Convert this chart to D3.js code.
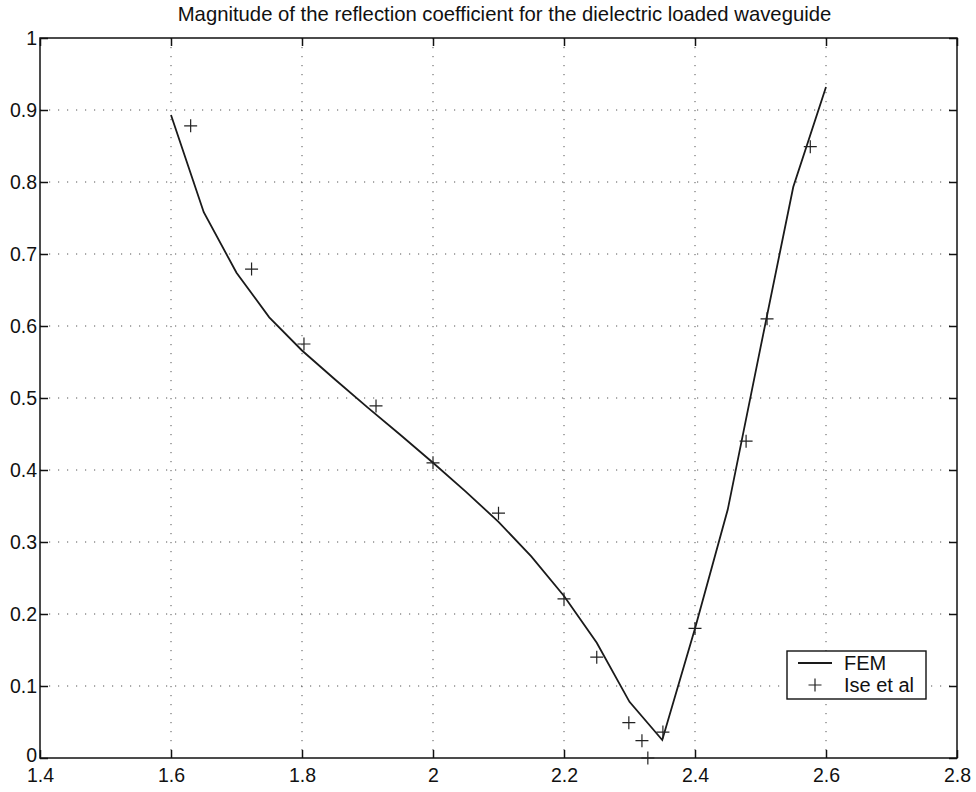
<!DOCTYPE html>
<html>
<head>
<meta charset="utf-8">
<script src="https://cdn.jsdelivr.net/npm/d3@7"></script>
<style>
  body { margin: 0; background: #fff; }
  text { font-family: "Liberation Sans", Arial, sans-serif; fill: #111; }
  .grid line { stroke: #555; stroke-width: 1; stroke-dasharray: 1.2,7.8; }
  .axis path { display: none; }
  .axis line { stroke: #111; stroke-width: 1.5; }
  .axis text { font-size: 19.5px; }
</style>
</head>
<body>
<div id="chart"></div>
<script>
var title = "Magnitude of the reflection coefficient for the dielectric loaded waveguide";

// FEM curve
var femFreq = [1.6, 1.65, 1.7, 1.75, 1.8, 1.85, 1.9, 1.95, 2.0, 2.05, 2.1,
               2.15, 2.2, 2.25, 2.3, 2.35, 2.4, 2.45, 2.5, 2.55, 2.6];
var femMag  = [0.893, 0.758, 0.674, 0.612, 0.566, 0.526, 0.487, 0.449, 0.41, 0.37, 0.328,
               0.28, 0.225, 0.16, 0.078, 0.025, 0.18, 0.345, 0.57, 0.793, 0.932];

// Ise et al measured points
var iseFreq = [1.63, 1.723, 1.803, 1.913, 2.0, 2.1, 2.2, 2.25, 2.299, 2.319, 2.328,
               2.351, 2.4, 2.478, 2.51, 2.576];
var iseMag  = [0.878, 0.679, 0.575, 0.489, 0.41, 0.34, 0.221, 0.14, 0.049, 0.024, 0.0,
               0.036, 0.18, 0.44, 0.61, 0.849];

var xTicks = [1.4, 1.6, 1.8, 2.0, 2.2, 2.4, 2.6, 2.8];
var yTicks = [0, 0.1, 0.2, 0.3, 0.4, 0.5, 0.6, 0.7, 0.8, 0.9, 1];
var legendLabels = ["FEM", "Ise et al"];

var margin = {top: 38, right: 19, bottom: 34, left: 40},
    width = 976 - margin.left - margin.right,
    height = 792 - margin.top - margin.bottom;

var x = d3.scaleLinear().domain([1.4, 2.8]).range([0, width]);
var y = d3.scaleLinear().domain([0, 1]).range([height, 0]);

var fmt = function(d) { return d3.format("")(+d.toFixed(1)); };

var svg = d3.select("#chart").append("svg")
    .attr("width", 976)
    .attr("height", 792);

svg.append("text")
    .attr("x", margin.left + width / 2 + 6)
    .attr("y", 21)
    .attr("text-anchor", "middle")
    .style("font-size", "20.3px")
    .text(title);

var g = svg.append("g")
    .attr("transform", "translate(" + margin.left + "," + margin.top + ")");

// dotted grid (skip the frame edges)
g.append("g").attr("class", "grid")
  .selectAll("line")
  .data(xTicks.slice(1, -1))
  .enter().append("line")
    .attr("x1", function(d) { return x(d); })
    .attr("x2", function(d) { return x(d); })
    .attr("y1", 0).attr("y2", height);

g.append("g").attr("class", "grid")
  .selectAll("line")
  .data(yTicks.slice(1, -1))
  .enter().append("line")
    .attr("y1", function(d) { return y(d); })
    .attr("y2", function(d) { return y(d); })
    .attr("x1", 0).attr("x2", width);

// axes, MATLAB style inward ticks on all sides
g.append("g")
    .attr("class", "x axis")
    .attr("transform", "translate(0," + height + ")")
    .call(d3.axisBottom(x).tickValues(xTicks).tickFormat(fmt).tickSize(-8).tickPadding(10));

g.append("g")
    .attr("class", "x axis")
    .call(d3.axisTop(x).tickValues(xTicks).tickFormat("").tickSize(-8));

g.append("g")
    .attr("class", "y axis")
    .call(d3.axisLeft(y).tickValues(yTicks).tickFormat(fmt).tickSize(-8).tickPadding(3));

g.append("g")
    .attr("class", "y axis")
    .attr("transform", "translate(" + width + ",0)")
    .call(d3.axisRight(y).tickValues(yTicks).tickFormat("").tickSize(-8));

g.selectAll(".y.axis text")
    .attr("dy", function(d) { return d === 0 ? "0.2em" : "0.33em"; });

// frame
g.append("rect")
    .attr("width", width)
    .attr("height", height)
    .attr("fill", "none")
    .attr("stroke", "#111")
    .attr("stroke-width", 1.5);

// FEM line
var fem = femFreq.map(function(f, i) { return {f: f, m: femMag[i]}; });
var valueLine = d3.line()
    .x(function(d) { return x(d.f); })
    .y(function(d) { return y(d.m); });

g.append("path")
    .datum(fem)
    .attr("fill", "none")
    .attr("stroke", "#1a1a1a")
    .attr("stroke-width", 1.8)
    .attr("d", valueLine);

// Ise et al plus markers
var plus = "M-6.5,0H6.5M0,-6.5V6.5";
var ise = iseFreq.map(function(f, i) { return {f: f, m: iseMag[i]}; });
g.append("g").selectAll("path")
  .data(ise)
  .enter().append("path")
    .attr("d", plus)
    .attr("transform", function(d) { return "translate(" + x(d.f) + "," + y(d.m) + ")"; })
    .attr("fill", "none")
    .attr("stroke", "#222")
    .attr("stroke-width", 1.2);

// legend
var lg = svg.append("g").attr("transform", "translate(787,651)");
lg.append("rect")
    .attr("width", 139).attr("height", 48)
    .attr("fill", "#fff").attr("stroke", "#111").attr("stroke-width", 1.4);
lg.append("line")
    .attr("x1", 11).attr("x2", 45).attr("y1", 12).attr("y2", 12)
    .attr("stroke", "#1a1a1a").attr("stroke-width", 1.8);
lg.append("path")
    .attr("d", plus)
    .attr("transform", "translate(28,34)")
    .attr("fill", "none").attr("stroke", "#222").attr("stroke-width", 1.2);
lg.selectAll("text.lab")
  .data(legendLabels)
  .enter().append("text")
    .attr("class", "lab")
    .attr("x", 57)
    .attr("y", function(d, i) { return 12 + i * 22; })
    .attr("dy", "0.36em")
    .style("font-size", "20px")
    .text(function(d) { return d; });
</script>
</body>
</html>
